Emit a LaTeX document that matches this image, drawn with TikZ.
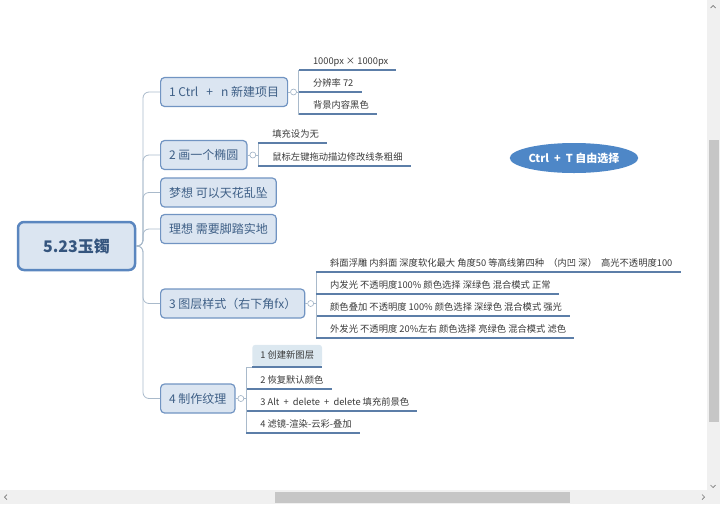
\documentclass[tikz,border=0pt]{standalone}
\usepackage{fontspec}
\setmainfont{Noto Sans CJK SC}
\usetikzlibrary{positioning,shapes.geometric}

\definecolor{boxfill}{HTML}{DBE5F1}
\definecolor{rootline}{HTML}{5A86BF}
\definecolor{roottext}{HTML}{35557E}
\definecolor{topicline}{HTML}{7194C2}
\definecolor{topictext}{HTML}{3E5F86}
\definecolor{leaftext}{HTML}{3A3A3A}
\definecolor{knobline}{HTML}{9DB0C4}
\definecolor{linkline}{HTML}{A9BACB}
\definecolor{ulinecol}{HTML}{5C7EA8}
\definecolor{ovalfill}{HTML}{4E87C7}
\definecolor{pickfill}{HTML}{DCE8F0}
\definecolor{barbg}{HTML}{F0F0F0}
\definecolor{thumbcol}{HTML}{C6C6C6}
\definecolor{chevcol}{HTML}{777777}

\begin{document}
\begin{tikzpicture}[
        x=1pt, y=-1pt, % pixel-like coordinates, y down
        node distance=2pt]

        \tikzset{
            root/.style = {draw=rootline, fill=boxfill, line width=2.5pt,
                rounded corners=6pt, minimum width=117pt, minimum height=48pt,
                text=roottext, font=\fontsize{16}{18}\selectfont\bfseries},
            topic/.style = {draw=topicline, fill=boxfill, line width=1.2pt,
                rounded corners=4pt, minimum height=29pt, inner xsep=8.5pt,
                anchor=west, text=topictext, font=\fontsize{12}{14}\selectfont},
            leaf/.style = {anchor=south west, inner xsep=8pt, inner ysep=3.5pt,
                text height=7.5pt, text depth=2pt, text=leaftext,
                font=\fontsize{9.3}{11}\selectfont},
            picked/.style = {fill=pickfill, rounded corners=3pt, minimum height=22pt},
            knob/.style = {circle, draw=knobline, fill=white, line width=0.6pt,
                inner sep=0pt, minimum size=6pt},
            oval/.style = {ellipse, fill=ovalfill, inner sep=0pt,
                minimum width=122pt, minimum height=30pt, text=white,
                font=\fontsize{11}{13}\selectfont\bfseries},
            link/.style = {draw=linkline, line width=0.8pt},
            uline/.style = {draw=ulinecol, line width=2pt},
            chev/.style = {draw=chevcol, line width=0.7pt}
        }
        \useasboundingbox (0,0) rectangle (720,504);

        % central topic and main branches
        \node[root] (root) at (76.5,246) {5.23玉镯};
        \coordinate (tr) at (143,246);

        \node[topic] (b1) at (160,92) {1 Ctrl \ \ + \ \ n 新建项目};
        \node[topic] (b2) at (160,155) {2 画一个椭圆};
        \node[topic] (b3) at (160,192.5) {梦想 可以天花乱坠};
        \node[topic] (b4) at (160,229) {理想 需要脚踏实地};
        \node[topic] (b5) at (160,303.5) {3 图层样式（右下角fx）};
        \node[topic] (b6) at (160,398.5) {4 制作纹理};

        \foreach \b in {b1,b2,b3,b4,b5,b6}
            \draw[link, rounded corners=6pt] (root.east) -- (tr) |- (\b.west);

        % collapse knobs and spines
        \node[knob, right=of b1] (k1) {};
        \node[knob, right=of b2] (k2) {};
        \node[knob, right=of b5] (k5) {};
        \node[knob, right=of b6] (k6) {};
        \coordinate[right=of k1] (s1);
        \coordinate[right=of k2] (s2);
        \coordinate[right=of k5] (s5);
        \coordinate[right=of k6] (s6);

        % sub topics
        \node[leaf] (c11) at ([shift={(6,-22)}]s1) {1000px × 1000px};
        \node[leaf] (c12) at ([shift={(6,0)}]s1) {分辨率 72};
        \node[leaf] (c13) at ([shift={(6,22)}]s1) {背景内容黑色};

        \node[leaf] (c21) at ([shift={(6,-12)}]s2) {填充设为无};
        \node[leaf] (c22) at ([shift={(6,11)}]s2) {鼠标左键拖动描边修改线条粗细};

        \node[leaf] (c51) at ([shift={(6,-31.5)}]s5)
            {斜面浮雕 内斜面 深度软化最大 角度50 等高线第四种 \ （内凹 深） \ 高光不透明度100};
        \node[leaf] (c52) at ([shift={(6,-9.5)}]s5)
            {内发光 不透明度100\% 颜色选择 深绿色 混合模式 正常};
        \node[leaf] (c53) at ([shift={(6,12.5)}]s5)
            {颜色叠加 不透明度 100\% 颜色选择 深绿色 混合模式 强光};
        \node[leaf] (c54) at ([shift={(6,34.5)}]s5)
            {外发光 不透明度 20\%左右 颜色选择 亮绿色 混合模式 滤色};

        \node[leaf, picked] (c61) at ([shift={(6,-31.5)}]s6) {1 创建新图层};
        \node[leaf] (c62) at ([shift={(6,-9.5)}]s6) {2 恢复默认颜色};
        \node[leaf] (c63) at ([shift={(6,12.5)}]s6) {3 Alt \ + \ delete \ + \ delete 填充前景色};
        \node[leaf] (c64) at ([shift={(6,34.5)}]s6) {4 滤镜-渲染-云彩-叠加};

        \foreach \b/\k/\s in {b1/k1/s1, b2/k2/s2, b5/k5/s5, b6/k6/s6}
            \draw[link] (\b.east) -- (\k.west) (\k.east) -- (\s);

        \foreach \c/\s in {c11/s1, c12/s1, c13/s1, c21/s2, c22/s2,
                c51/s5, c52/s5, c53/s5, c54/s5, c62/s6, c63/s6, c64/s6} {
            \draw[link] (\s) |- (\c.south west);
            \draw[uline] (\s |- \c.south) -- (\c.south east);
        }
        \draw[link] (s6) |- (c61.south west);
        \draw[uline] (c61.south west) -- (c61.south east);

        % floating topic
        \node[oval] (free) at (574,158) {Ctrl \ + \ T 自由选择};

        % window scroll bars
        \fill[barbg] (707,0) rectangle (720,490);
        \fill[thumbcol] (709,140) rectangle (719,422);
        \fill[barbg] (0,490) rectangle (720,504);
        \fill[thumbcol] (275,492) rectangle (570,503);
        \draw[chev] (710.5,8) -- (713,5.5) -- (715.5,8);
        \draw[chev] (710.5,485) -- (713,487.5) -- (715.5,485);
        \draw[chev] (7,494.5) -- (4.5,497) -- (7,499.5);
        \draw[chev] (702,494.5) -- (704.5,497) -- (702,499.5);
    \end{tikzpicture}
\end{document}
